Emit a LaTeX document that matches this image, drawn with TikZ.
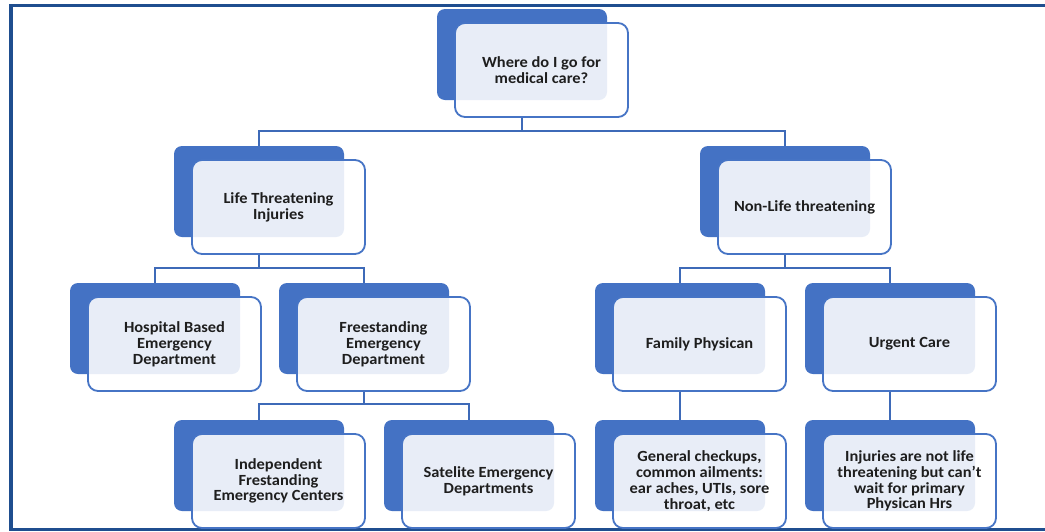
\documentclass[tikz,border=0pt]{standalone}
\usepackage{fontspec}
\setmainfont{Carlito}[FakeStretch=1.06]
\definecolor{darkbox}{HTML}{4472C4}
\definecolor{frontline}{HTML}{4674C5}
\definecolor{conn}{HTML}{3E6AB8}
\definecolor{frame}{HTML}{1F4E8F}
\definecolor{txt}{HTML}{1E1E1E}
\tikzset{
  backbox/.style={draw=none, fill=darkbox, rounded corners=8pt, minimum width=170pt, minimum height=91pt, inner sep=0pt},
  frontbox/.style={draw=frontline, line width=1.8pt, fill=white, fill opacity=0.88, text opacity=1, rounded corners=10pt, minimum width=173pt, minimum height=94pt, inner sep=0pt, align=center, text=txt, font=\fontsize{15.5}{15.8}\selectfont\bfseries},
  connector/.style={draw=conn, line width=1.6pt}
}
% #1 name, #2 x, #3 y (top-left of back box), #4 text
\newcommand{\unitbox}[4]{%
  \node[backbox] (#1b) at (#2+85,#3+45.5) {};
  \node[frontbox] (#1) at (#2+104.5,#3+61) {#4};
}
\begin{document}
\begin{tikzpicture}[x=1pt,y=-1pt]
\useasboundingbox (0,0) rectangle (1045,531);
\fill[white] (0,0) rectangle (1045,531);
\begin{scope}
\clip (0,0) rectangle (1045,531);
\draw[frame, line width=3.6pt] (11,5.5) rectangle (1060,529.5);
\end{scope}

\unitbox{root}{437}{9}{Where do I go for\\medical care?}
\unitbox{life}{174}{146}{Life Threatening\\Injuries}
\unitbox{nonlife}{700}{146}{Non-Life threatening}
\unitbox{hosp}{70}{283}{Hospital Based\\Emergency\\Department}
\unitbox{free}{279}{283}{Freestanding\\Emergency\\Department}
\unitbox{fam}{595}{283}{Family Physican}
\unitbox{urg}{805}{283}{Urgent Care}
\unitbox{ind}{174}{420}{Independent\\Frestanding\\Emergency Centers}
\unitbox{sat}{384}{420}{Satelite Emergency\\Departments}
\unitbox{gen}{595}{420}{General checkups,\\common ailments:\\ear aches, UTIs, sore\\throat, etc}
\unitbox{inj}{805}{420}{Injuries are not life\\threatening but can't\\wait for primary\\Physican Hrs}

\coordinate (j1) at (522,131);
\coordinate (j2) at (259,268);
\coordinate (j3) at (785,268);
\coordinate (j4) at (364,404);

\begin{scope}[on background layer/.try]
\end{scope}
\draw[connector] (rootb.south |- root.south) -- (j1);
\draw[connector] (lifeb.north) |- (j1) -| (nonlifeb.north);
\draw[connector] (lifeb.south |- life.south) -- (j2);
\draw[connector] (hospb.north) |- (j2) -| (freeb.north);
\draw[connector] (nonlifeb.south |- nonlife.south) -- (j3);
\draw[connector] (famb.north) |- (j3) -| (urgb.north);
\draw[connector] (freeb.south |- free.south) -- (j4);
\draw[connector] (indb.north) |- (j4) -| (satb.north);
\draw[connector] (famb.south |- fam.south) -- (genb.north);
\draw[connector] (urgb.south |- urg.south) -- (injb.north);
\end{tikzpicture}
\end{document}
